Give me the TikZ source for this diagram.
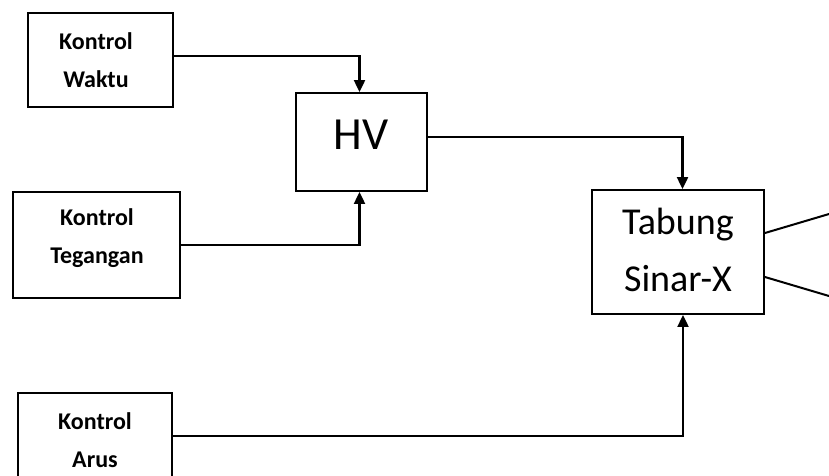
\documentclass[tikz,border=0pt]{standalone}
\usepackage{fontspec}
\setmainfont{Carlito}
\usetikzlibrary{arrows.meta}
\begin{document}
\begin{tikzpicture}[x=1pt,y=-1pt,
  box/.style={draw=black,line width=1.9pt,fill=white,inner sep=0pt},
  lbl/.style={align=center,inner sep=0pt,font=\bfseries\fontsize{24}{38}\selectfont},
  conn/.style={draw=black,line width=2.2pt,-{Triangle[length=12pt,width=11pt]}},
  ray/.style={draw=black,line width=2pt}]
\useasboundingbox (0,0) rectangle (829,475);
\clip (0,0) rectangle (829,475);
\fill[white] (0,0) rectangle (829,475);
% boxes
\node[box,minimum width=145pt,minimum height=94pt] (W) at (100.5,60) {};
\node[box,minimum width=167pt,minimum height=106pt] (T) at (96.5,245) {};
\node[box,minimum width=154pt,minimum height=100pt] (A) at (95,443) {};
\node[box,minimum width=131pt,minimum height=98pt] (HV) at (361.5,142) {};
\node[box,minimum width=172pt,minimum height=124pt] (X) at (678,252) {};
% texts
\node[lbl] (tW) at (96,60) {Kontrol\\Waktu};
\node[lbl] (tT) at (97,238.5) {Kontrol\\Tegangan};
\node[lbl] (tA) at (95,440) {Kontrol\\Arus};
\node[lbl,font=\fontsize{46}{50}\selectfont] (tHV) at (361,135) {HV};
\node[lbl,font=\fontsize{38}{57}\selectfont] (tX) at (678,250) {Tabung\\Sinar-X};
% connectors
\draw[conn] ([yshift=4pt]W.east) -| ([xshift=-2pt]HV.north);
\draw[conn] (T.east) -| ([xshift=-2pt]HV.south);
\draw[conn] ([yshift=5pt]HV.east) -| ([xshift=4.5pt]X.north);
\draw[conn] ([yshift=7pt]A.east) -| ([xshift=5pt]X.south);
% rays
\coordinate (r1) at (829,214);
\coordinate (r2) at (829,296);
\draw[ray] ([yshift=19pt]X.east) -- (r1);
\draw[ray] ([yshift=-25pt]X.east) -- (r2);
\end{tikzpicture}
\end{document}
